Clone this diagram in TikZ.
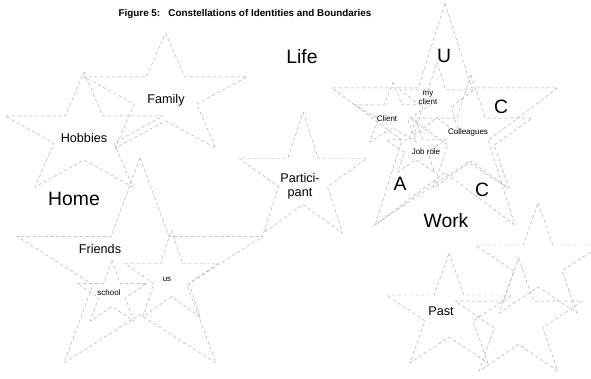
\documentclass[tikz,border=0pt]{standalone}
\usepackage{fontspec}
\setmainfont{Liberation Sans}

% one star, given by the box it sits in: left, top, width, height
\newcommand{\idstar}[4]{%
  \draw[starline,shift={(#1,#2)},xscale=#3,yscale=#4]
    (0.5,0) -- (0.618,0.382) -- (1,0.382) -- (0.691,0.618) -- (0.809,1)
    -- (0.5,0.764) -- (0.191,1) -- (0.309,0.618) -- (0,0.382)
    -- (0.382,0.382) -- cycle;}

\tikzset{
  starline/.style={draw=gray!70,densely dashed,line width=0.35pt},
  biglabel/.style={font=\fontsize{16.5}{18}\selectfont},
  midlabel/.style={font=\fontsize{10.8}{12}\selectfont,align=center},
  tinylabel/.style={font=\fontsize{6.8}{7.5}\selectfont,align=center},
}

\begin{document}
\begin{tikzpicture}[x=0.03cm,y=-0.03cm]
        \useasboundingbox (0,0) rectangle (591,378);
        \clip (0,0) rectangle (591,378);

        % home side
        \idstar{84}{33}{163}{115}
        \idstar{5}{72}{158}{115}
        \idstar{17}{158}{246}{205}
        \idstar{77}{260}{70}{61}
        \idstar{125}{230}{93}{87}
        % participant
        \idstar{239}{112}{128}{121}
        % work side
        \idstar{332}{3}{226}{222}
        \idstar{355}{82}{76}{60}
        \idstar{400}{62}{74}{73}
        \idstar{410}{75}{122}{113}
        \idstar{386}{120}{60}{52}
        \draw[starline] (373,226) -- (468,162) -- (506,187);
        % past
        \idstar{475}{203}{126}{110}
        \idstar{455}{258}{127}{113}
        \idstar{386}{253}{126}{110}

        \node[font=\fontsize{8.4}{10}\selectfont\bfseries] (title) at (245,14)
          {Figure 5:\ \ \ Constellations of Identities and Boundaries};
        \node[biglabel] (life) at (302,57) {Life};
        \node[biglabel] (home) at (74,199) {Home};
        \node[biglabel] (work) at (446,221) {Work};
        \node[biglabel] (u) at (444,56) {U};
        \node[biglabel] (cup) at (501,107) {C};
        \node[biglabel] (a) at (400,184) {A};
        \node[biglabel] (clow) at (482,190) {C};

        \node[midlabel] (family) at (166,100) {Family};
        \node[midlabel] (hobbies) at (84,138) {Hobbies};
        \node[midlabel] (friends) at (100,249) {Friends};
        \node[midlabel] (participant) at (300,186) {Partici-\\pant};
        \node[midlabel] (past) at (441,311) {Past};

        \node[tinylabel] (school) at (109,293) {school};
        \node[tinylabel] (us) at (167,279) {us};
        \node[tinylabel] (myclient) at (428,98) {my\\client};
        \node[tinylabel] (client) at (387,119) {Client};
        \node[tinylabel] (colleagues) at (468,132) {Colleagues};
        \node[tinylabel] (jobrole) at (426,152) {Job role};
      \end{tikzpicture}
\end{document}
